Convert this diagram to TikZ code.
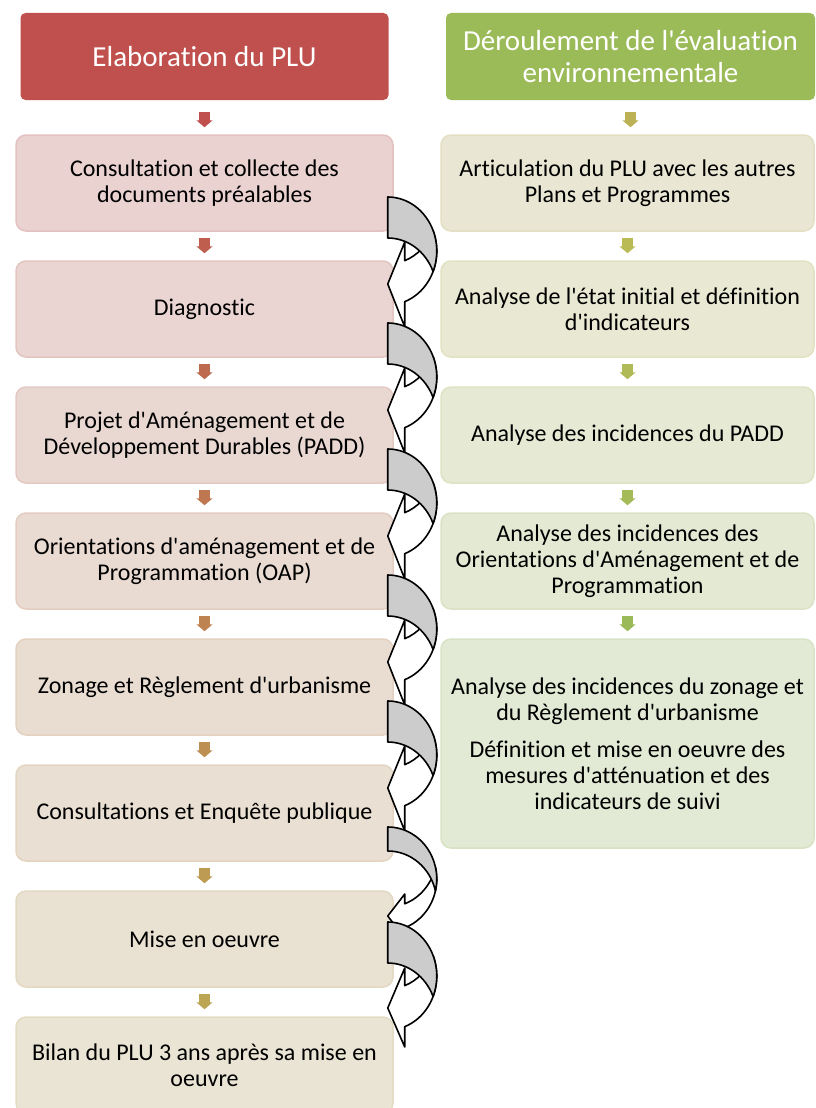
\documentclass[tikz,border=0pt]{standalone}
\usepackage{fontspec}
\setmainfont{Carlito}[Ligatures={TeXOff,NoCommon}]
\usetikzlibrary{arrows.meta}
\definecolor{plured}{HTML}{C0504D}
\definecolor{plugreen}{HTML}{9BBB59}
% colour steps, red to green
\definecolor{step0}{RGB}{191,80,77}
\definecolor{step1}{RGB}{191,93,78}
\definecolor{step2}{RGB}{190,106,79}
\definecolor{step3}{RGB}{190,119,80}
\definecolor{step4}{RGB}{189,131,81}
\definecolor{step5}{RGB}{189,143,82}
\definecolor{step6}{RGB}{189,155,83}
\definecolor{step7}{RGB}{188,166,84}
\definecolor{step8}{RGB}{188,177,85}
\definecolor{step9}{RGB}{187,187,86}
\definecolor{step10}{RGB}{176,187,87}
\definecolor{step11}{RGB}{165,187,88}
\definecolor{step12}{RGB}{154,186,89}
% #1 box, #2 y offset, #3 band, #4 radius, #5 #6 head, #7 tip
\newcommand{\bendarrow}[7]{%
  \begin{scope}[shift={(#1.east)}, xshift=-6pt, yshift=#2pt]
    \pgfmathsetmacro{\ta}{asin(#3/(2*#4))}
    \pgfmathsetmacro{\tb}{-acos(17/49)}
    \filldraw[bendfront] ([shift={(0,-#4)}]\tb:49pt and #4pt)
      arc[start angle=\tb, end angle=\ta, x radius=49pt, y radius=#4pt]
      arc[start angle=-\ta, end angle=\tb, x radius=49pt, y radius=#4pt]
      -- (17,-#5) -- (0,-#7) -- (17,-#6) -- cycle;
    \filldraw[bendback] (0,0)
      arc[start angle=90, end angle=-\ta, x radius=49pt, y radius=#4pt]
      arc[start angle=\ta, end angle=90, x radius=49pt, y radius=#4pt] -- cycle;
  \end{scope}}

\begin{document}
\begin{tikzpicture}[x=1pt, y=1pt,
    header/.style={rounded corners=5pt, minimum width=368pt, minimum height=87pt,
      inner sep=0pt, align=center, text=white, font=\fontsize{29}{32}\selectfont},
    stepbox/.style={rounded corners=10pt, minimum width=377pt, minimum height=96pt,
      inner sep=0pt, align=center, line width=1.5pt, font=\fontsize{24}{26}\selectfont},
    tint/.style={fill=#1!22!white!97!black, draw=#1!32!white!97!black},
    flow/.style={line width=11pt, -{Triangle[width=16pt,length=7pt]},
      shorten <=6pt, shorten >=7pt},
    bendfront/.style={fill=white, draw=black, line width=1.6pt, line join=round},
    bendback/.style={fill=black!20, draw=black, line width=1.6pt, line join=round}]
  \useasboundingbox (0,0) rectangle (816,-1108);
  \node[header, fill=plured] (hplu) at (204.5,-56.5) {Elaboration du PLU};
  \node[header, fill=plugreen, minimum width=369pt] (heval) at (630.5,-56.5)
    {Déroulement de l'évaluation\\environnementale};
  %
  \node[stepbox, tint=step0] (l1) at (204.5,-183) {Consultation et collecte des\\documents préalables};
  \node[stepbox, tint=step1] (l2) at (204.5,-309) {Diagnostic};
  \node[stepbox, tint=step2] (l3) at (204.5,-435) {Projet d'Aménagement et de\\Développement Durables (PADD)};
  \node[stepbox, tint=step3] (l4) at (204.5,-561) {Orientations d'aménagement et de\\Programmation (OAP)};
  \node[stepbox, tint=step4] (l5) at (204.5,-687) {Zonage et Règlement d'urbanisme};
  \node[stepbox, tint=step5] (l6) at (204.5,-813) {Consultations et Enquête publique};
  \node[stepbox, tint=step6] (l7) at (204.5,-939) {Mise en oeuvre};
  \node[stepbox, tint=step7] (l8) at (204.5,-1065) {Bilan du PLU 3 ans après sa mise en\\oeuvre};
  %
  \node[stepbox, tint=step8, minimum width=373pt] (r1) at (627.5,-183) {Articulation du PLU avec les autres\\Plans et Programmes};
  \node[stepbox, tint=step9, minimum width=373pt] (r2) at (627.5,-309) {Analyse de l'état initial et définition\\d'indicateurs};
  \node[stepbox, tint=step10, minimum width=373pt] (r3) at (627.5,-435) {Analyse des incidences du PADD};
  \node[stepbox, tint=step11, minimum width=373pt] (r4) at (627.5,-561) {Analyse des incidences des\\Orientations d'Aménagement et de\\Programmation};
  \node[stepbox, tint=step12, minimum width=373pt, minimum height=209pt] (r5) at (627.5,-743.5)
    {Analyse des incidences du zonage et\\du Règlement d'urbanisme\\[11pt]Définition et mise en oeuvre des\\mesures d'atténuation et des\\indicateurs de suivi};
  %
  \draw[flow, step0, shorten <=12pt] (hplu.south) -- (l1.north);
  \draw[flow, step1] (l1) -- (l2);
  \draw[flow, step2] (l2) -- (l3);
  \draw[flow, step3] (l3) -- (l4);
  \draw[flow, step4] (l4) -- (l5);
  \draw[flow, step5] (l5) -- (l6);
  \draw[flow, step6] (l6) -- (l7);
  \draw[flow, step7] (l7) -- (l8);
  \draw[flow, step8, shorten <=12pt] (heval.south) -- (heval.south |- r1.north);
  \draw[flow, step9] (r1) -- (r2);
  \draw[flow, step10] (r2) -- (r3);
  \draw[flow, step11] (r3) -- (r4);
  \draw[flow, step12] (r4) -- (r5);
  %
  \bendarrow{l1}{-14}{41}{54}{45}{130}{87}
  \bendarrow{l2}{-14}{41}{54}{45}{130}{87}
  \bendarrow{l3}{-14}{41}{54}{45}{130}{87}
  \bendarrow{l4}{-14}{41}{54}{45}{130}{87}
  \bendarrow{l5}{-14}{41}{54}{45}{130}{87}
  \bendarrow{l6}{-14}{24}{52}{67}{111}{89}
  \bendarrow{l7}{17}{41}{54}{46}{125}{86}
\end{tikzpicture}
\end{document}
